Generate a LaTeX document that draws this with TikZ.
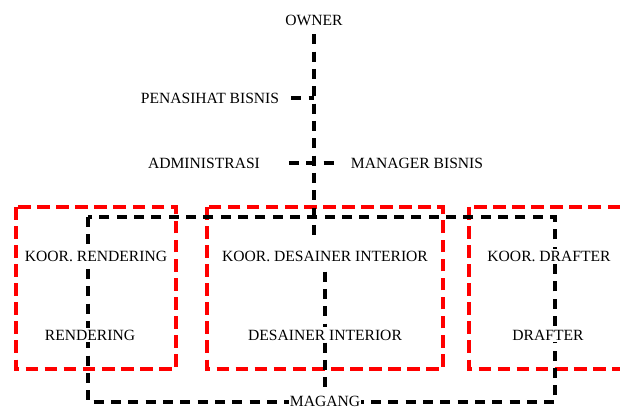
\documentclass[tikz,border=0pt]{standalone}
\usepackage{fontspec}
\setmainfont{Liberation Serif}
\usetikzlibrary{calc}
\pgfdeclarelayer{boxes}
\pgfdeclarelayer{lines}
\pgfsetlayers{boxes,lines,main}
\tikzset{
  unit/.style={fill=white,inner sep=1.5pt,font=\fontsize{11.7}{14}\selectfont},
  link/.style={draw=black,line width=2.4pt,dash pattern=on 7.5pt off 5.5pt},
  group/.style={draw=red,line width=2.4pt,dash pattern=on 9.5pt off 4.8pt}
}

\begin{document}
\begin{tikzpicture}[x=0.75pt,y=-0.75pt]
    \useasboundingbox (0,0) rectangle (620,409);
    \node[unit] (own) at (314,20) {OWNER};
    \node[unit] (pen) at (210,98) {PENASIHAT BISNIS};
    \node[unit] (adm) at (204,163) {ADMINISTRASI};
    \node[unit] (mgr) at (417,163) {MANAGER BISNIS};
    \node[unit] (krend) at (96,256) {KOOR. RENDERING};
    \node[unit] (kdes) at (325,256) {KOOR. DESAINER INTERIOR};
    \node[unit] (kdraft) at (549,256) {KOOR. DRAFTER};
    \node[unit] (rend) at (90,335) {RENDERING};
    \node[unit] (des) at (325,335) {DESAINER INTERIOR};
    \node[unit] (draft) at (548,335) {DRAFTER};
    \node[unit,inner sep=1pt] (mag) at (325,401) {MAGANG};
    \coordinate (tl) at (88,217);
    \coordinate (br) at (555,402);
    \begin{pgfonlayer}{boxes}
      \draw[group] (16,207) rectangle (176,369);
      \draw[group] (207,207) rectangle (443,369);
      \draw[group] (469,207) rectangle (640,369);
    \end{pgfonlayer}
    \begin{pgfonlayer}{lines}
      \draw[link,shorten <=5pt,shorten >=8pt] (own) -- (own |- kdes.north);
      \draw[link,shorten <=7.5pt] (pen.east) -- (pen.east -| own);
      \draw[link,shorten <=20pt,shorten >=9pt] (adm.east) -- (mgr.west);
      \draw[link] (tl) rectangle (br);
      \draw[link,shorten <=6pt] (kdes.south) -- (des.north);
      \draw[link] (des.south) -- (mag.north);
    \end{pgfonlayer}
\end{tikzpicture}
\end{document}
